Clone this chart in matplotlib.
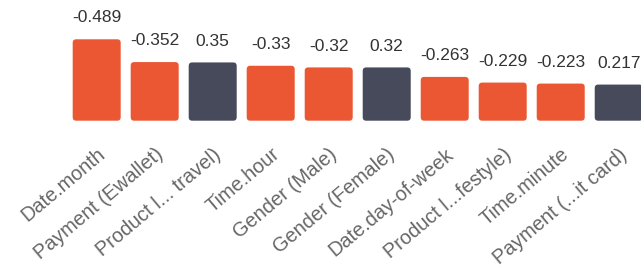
import matplotlib
matplotlib.use("Agg")
import matplotlib.pyplot as plt
from matplotlib.patches import FancyBboxPatch

# ── data ───────────────────────────────────────────────────────────────────
features = ["Date.month", "Payment (Ewallet)", "Product l... travel)", "Time.hour",
            "Gender (Male)", "Gender (Female)", "Date.day-of-week",
            "Product l...festyle)", "Time.minute", "Payment (...it card)"]
values = [-0.489, -0.352, 0.35, -0.33, -0.32, 0.32, -0.263, -0.229, -0.223, 0.217]
value_labels = ["-0.489", "-0.352", "0.35", "-0.33", "-0.32", "0.32", "-0.263",
                "-0.229", "-0.223", "0.217"]

# ── colours ────────────────────────────────────────────────────────────────
C_NEG = "#EB5733"
C_POS = "#464A5B"
C_VAL = "#333333"
C_TICK = "#666666"

plt.rcParams["font.family"] = ["Liberation Sans", "DejaVu Sans"]

W, H = 641, 273
base_px = 120.7
fig = plt.figure(figsize=(W / 100, H / 100), dpi=100)
ax = fig.add_axes([0, (H - base_px) / H, 1, base_px / H])
ax.set_facecolor("none")

x = list(range(len(features)))
heights = [abs(v) for v in values]
colors = [C_NEG if v < 0 else C_POS for v in values]

ax.set_xlim(-1.667, 9.384)
ax.set_ylim(0, base_px / 166.5)

bar_w = 48 / 58
bars = ax.bar(x, heights, width=bar_w, color=colors)

# swap plain rectangles for rounded ones
x0, x1 = ax.get_xlim()
y0, y1 = ax.get_ylim()
aspect = ((y1 - y0) / base_px) / ((x1 - x0) / W)
for b, c in zip(bars, colors):
    b.set_visible(False)
    p = FancyBboxPatch((b.get_x(), b.get_y()), b.get_width(), b.get_height(),
                       boxstyle="round,pad=0,rounding_size=0.06",
                       mutation_aspect=aspect, facecolor=c, edgecolor="none",
                       clip_on=False)
    ax.add_patch(p)

for xi, h, lab in zip(x, heights, value_labels):
    ax.annotate(lab, (xi, h), xytext=(0, 10), textcoords="offset points",
                ha="center", va="bottom", fontsize=12.5, color=C_VAL)

ax.set_xticks(x)
ax.set_xticklabels(features, rotation=40, ha="right", va="top",
                   rotation_mode="anchor", fontsize=14.3, color=C_TICK)
ax.tick_params(axis="x", length=0, pad=17.3)
ax.set_yticks([])
for sp in ax.spines.values():
    sp.set_visible(False)

fig.savefig("out.png", dpi=100)
